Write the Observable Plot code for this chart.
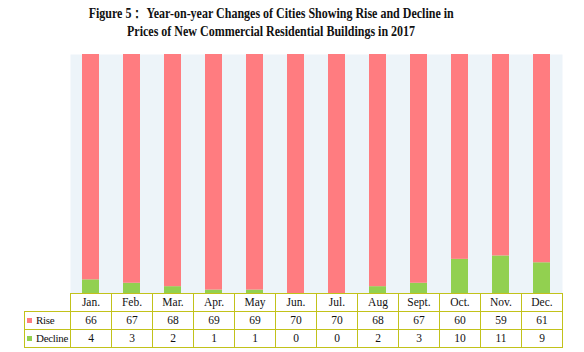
<!DOCTYPE html>
<html>
<head>
<meta charset="utf-8">
<script src="https://cdn.jsdelivr.net/npm/d3@7"></script>
<script src="https://cdn.jsdelivr.net/npm/@observablehq/plot@0.6"></script>
<style>
  html, body { margin: 0; padding: 0; background: #fff; }
  #wrap { position: relative; width: 584px; height: 352px; overflow: hidden; font-family: "Liberation Serif", "Times New Roman", serif; }
  #title { position: absolute; left: 0; top: 4px; width: 542px; height: 40px; text-align: center; font-weight: bold; font-size: 15px; line-height: 18px; color: #111; }
  #title div { display: block; white-space: nowrap; }
  #title span { display: inline-block; transform: scaleX(0.8); transform-origin: center; }
  #chart { position: absolute; left: 0; top: 44px; }
  #tbl { position: absolute; left: 24px; top: 293px; width: 538px; border-collapse: collapse; table-layout: fixed; font-size: 11.5px; color: #111; }
  #tbl td { border: 1px solid #C2C21A; text-align: center; padding: 0; height: 17px; line-height: 17px; white-space: nowrap; overflow: hidden; }
  #tbl td.lab { text-align: left; padding-left: 2px; font-size: 11px; letter-spacing: -0.3px; }
  #tbl td.blank { border-top: none; border-left: none; }
  .sw { display: inline-block; width: 5px; height: 5px; margin-right: 4px; vertical-align: 1px; }
</style>
</head>
<body>
<div id="wrap">
  <div id="title">
    <div><span>Figure 5：&nbsp;Year-on-year Changes of Cities Showing Rise and Decline in</span></div>
    <div><span>Prices of New Commercial Residential Buildings in 2017</span></div>
  </div>
  <div id="chart"></div>
  <table id="tbl"></table>
</div>
<script>
const months = ["Jan.", "Feb.", "Mar.", "Apr.", "May", "Jun.", "Jul.", "Aug", "Sept.", "Oct.", "Nov.", "Dec."];
const rise = [66, 67, 68, 69, 69, 70, 70, 68, 67, 60, 59, 61];
const decline = [4, 3, 2, 1, 1, 0, 0, 2, 3, 10, 11, 9];
const seriesNames = ["Rise", "Decline"];
const seriesColors = ["#FF7C80", "#92D050"];

const data = [];
months.forEach((m, i) => {
  data.push({month: m, series: "Decline", value: decline[i]});
  data.push({month: m, series: "Rise", value: rise[i]});
});

const plot = Plot.plot({
  width: 584,
  height: 249,
  marginTop: 10,
  marginBottom: 0,
  marginLeft: 70,
  marginRight: 22,
  x: {domain: months, padding: 0, axis: null},
  y: {axis: null, domain: [0, 1]},
  color: {domain: seriesNames, range: seriesColors},
  marks: [
    Plot.frame({fill: "#EDF4F9", stroke: null}),
    Plot.barY(data, Plot.stackY({
      x: "month", y: "value", fill: "series",
      order: ["Decline", "Rise"], offset: "normalize",
      insetLeft: 12, insetRight: 12
    }))
  ]
});
document.getElementById("chart").appendChild(plot);

// data table
const tbl = document.getElementById("tbl");
const colg = document.createElement("colgroup");
const c0 = document.createElement("col"); c0.style.width = "46px"; colg.appendChild(c0);
months.forEach(() => { const c = document.createElement("col"); c.style.width = "41px"; colg.appendChild(c); });
tbl.appendChild(colg);
const hr = document.createElement("tr");
const hb = document.createElement("td"); hb.className = "blank"; hr.appendChild(hb);
months.forEach(m => { const td = document.createElement("td"); td.textContent = m; hr.appendChild(td); });
tbl.appendChild(hr);
[[seriesNames[0], rise, seriesColors[0]], [seriesNames[1], decline, seriesColors[1]]].forEach(([name, vals, col]) => {
  const tr = document.createElement("tr");
  const lab = document.createElement("td"); lab.className = "lab";
  const sw = document.createElement("span"); sw.className = "sw"; sw.style.background = col;
  lab.appendChild(sw); lab.appendChild(document.createTextNode(name));
  tr.appendChild(lab);
  vals.forEach(v => { const td = document.createElement("td"); td.textContent = v; tr.appendChild(td); });
  tbl.appendChild(tr);
});
</script>
</body>
</html>
